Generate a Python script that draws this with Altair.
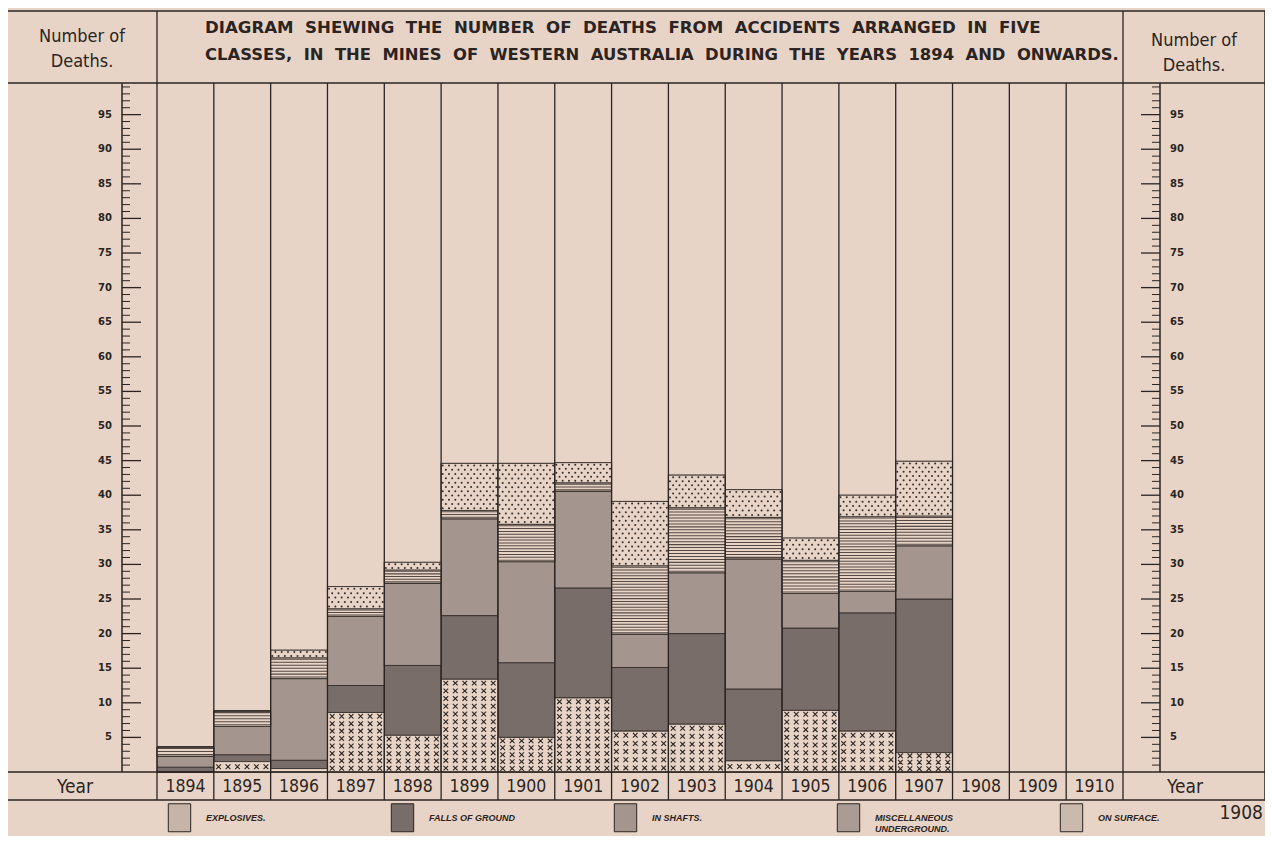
import altair as alt
import pandas as pd

# ---------------- data ----------------
YEARS = ["1894", "1895", "1896", "1897", "1898", "1899", "1900",
         "1901", "1902", "1903", "1904", "1905", "1906", "1907"]
EMPTY_YEARS = ["1908", "1909", "1910"]
ALL_YEARS = YEARS + EMPTY_YEARS

CLASSES = ["EXPLOSIVES.", "FALLS OF GROUND", "IN SHAFTS.",
           "MISCELLANEOUS UNDERGROUND.", "ON SURFACE."]

EXPLOSIVES = [0.0, 1.5, 0.5, 8.6, 5.3, 13.4, 5.0, 10.7, 5.9, 6.9, 1.6, 8.9, 5.9, 2.8]
FALLS      = [0.7, 1.0, 1.2, 3.9, 10.1, 9.2, 10.8, 15.9, 9.2, 13.1, 10.4, 11.9, 17.1, 22.2]
SHAFTS     = [1.6, 4.1, 11.8, 10.0, 11.9, 14.0, 14.6, 14.0, 4.8, 8.8, 18.8, 5.0, 3.1, 7.7]
MISC       = [1.3, 2.2, 3.0, 1.1, 1.9, 1.2, 5.4, 1.2, 9.9, 9.4, 6.0, 4.8, 10.8, 4.3]
SURFACE    = [0.0, 0.0, 1.1, 3.2, 1.1, 6.8, 8.8, 2.9, 9.3, 4.7, 4.0, 3.2, 3.1, 7.9]
SERIES = [EXPLOSIVES, FALLS, SHAFTS, MISC, SURFACE]

TICKS = list(range(1, 100))
TICK_LABELS = list(range(5, 100, 5))

TITLE_1 = "DIAGRAM SHEWING THE NUMBER OF DEATHS FROM ACCIDENTS ARRANGED IN FIVE"
TITLE_2 = "CLASSES, IN THE MINES OF WESTERN AUSTRALIA DURING THE YEARS 1894 AND ONWARDS."

# ---------------- style ----------------
PAPER = "#e8d4c7"
INK = "#2b2422"
TONES = ["#c7b4a9", "#786d68", "#a4968e", "#aa9c94", "#cbb9ae"]
NARROW = "Liberation Sans Narrow, DejaVu Sans Condensed, Liberation Sans, sans-serif"
BOLD = "DejaVu Sans, sans-serif"

W, H = 966, 689
YMAX = 99.57
ROW_BOTTOM = 717
TOP = -72
LEFT = -150
RIGHT = 1108
NSUB = 18

# stacked segments (bottom = explosives ... top = on surface)
rows = []
cum = [0.0] * len(YEARS)
for ci, (cls, vals) in enumerate(zip(CLASSES, SERIES)):
    for i, (yr, v) in enumerate(zip(YEARS, vals)):
        rows.append({"year": yr, "cls": cls, "deaths": v, "lo": cum[i], "hi": cum[i] + v})
        cum[i] += v
df = pd.DataFrame(rows)

# hatch textures derived from the segments
misc_lines, dots, crosses = [], [], []
for r in df.itertuples():
    h = r.hi - r.lo
    if h <= 0:
        continue
    if r.cls == CLASSES[3]:
        n = max(1, round(h / 0.42))
        for k in range(n):
            c = r.lo + (k + 0.5) * h / n
            misc_lines.append({"year": r.year, "a": c - 0.075, "b": c + 0.075})
    elif r.cls == CLASSES[4]:
        n = max(1, round(h / 0.62))
        for k in range(n):
            for s in range(k % 2, NSUB, 2):
                dots.append({"key": f"{r.year}-{s}", "v": r.lo + (k + 0.5) * h / n})
    elif r.cls == CLASSES[0]:
        n = round(h / 1.1)
        for k in range(n):
            for s in range(1, NSUB, 3):
                crosses.append({"key": f"{r.year}-{s}", "v": r.lo + (k + 0.5) * h / n})

SUB_KEYS = [f"{y}-{s}" for y in ALL_YEARS for s in range(NSUB)]

xscale = alt.Scale(domain=ALL_YEARS, paddingInner=0, paddingOuter=0)
subscale = alt.Scale(domain=SUB_KEYS, paddingInner=0, paddingOuter=0)
yscale = alt.Scale(domain=[0, YMAX], nice=False, zero=False)

ONE = alt.Data(values=[{}])


def hline(x1, x2, y, w=1.4):
    return alt.Chart(ONE).mark_rule(color=INK, strokeWidth=w).encode(
        x=alt.value(x1), x2=alt.value(x2), y=alt.value(y))


def vline(x, y1, y2, w=1.4):
    return alt.Chart(ONE).mark_rule(color=INK, strokeWidth=w).encode(
        x=alt.value(x), y=alt.value(y1), y2=alt.value(y2))


def label(text, x, y, size, font=NARROW, weight="normal", align="center"):
    return alt.Chart(ONE).mark_text(
        text=text, font=font, fontSize=size, fontWeight=weight,
        color=INK, align=align, baseline="middle").encode(x=alt.value(x), y=alt.value(y))


legend = alt.Legend(
    title=None, orient="none", legendX=8, legendY=720, direction="horizontal",
    columns=5, gridAlign="all", columnPadding=96, padding=0,
    symbolType="M-0.8,-1H0.8V1H-0.8Z", symbolSize=784,
    symbolStrokeColor=INK, symbolStrokeWidth=1,
    labelFont="Liberation Sans, sans-serif", labelFontStyle="italic",
    labelFontWeight="bold", labelFontSize=9, labelColor=INK,
    labelBaseline="middle", labelOffset=12, labelLimit=200,
    labelExpr="datum.label == 'MISCELLANEOUS UNDERGROUND.' ? ['MISCELLANEOUS', 'UNDERGROUND.'] : datum.label",
)

XBAND = alt.X("year:O", scale=xscale, axis=None)
XEDGE = alt.X("year:O", scale=xscale, bandPosition=0, axis=None)
XSUB = alt.X("key:O", scale=subscale, axis=None)

bars = alt.Chart(df).mark_bar(stroke=INK, strokeWidth=0.8).encode(
    x=XBAND,
    y=alt.Y("lo:Q", scale=yscale, axis=None),
    y2="hi:Q",
    color=alt.Color("cls:N", scale=alt.Scale(domain=CLASSES, range=TONES), legend=legend),
)

paper_base = alt.Chart(df).transform_filter(
    alt.FieldOneOfPredicate(field="cls", oneOf=[CLASSES[0], CLASSES[3], CLASSES[4]])
).mark_bar(fill=PAPER, stroke=INK, strokeWidth=0.8).encode(
    x=XBAND, y=alt.Y("lo:Q", scale=yscale, axis=None), y2="hi:Q")

misc_hatch = alt.Chart(pd.DataFrame(misc_lines)).mark_bar(
    color="#3a302d", opacity=0.85).encode(
    x=XBAND, y=alt.Y("a:Q", scale=yscale, axis=None), y2="b:Q")

dot_hatch = alt.Chart(pd.DataFrame(dots)).mark_circle(
    color=INK, size=4, opacity=0.95).encode(
    x=XSUB, y=alt.Y("v:Q", scale=yscale, axis=None))

cross_hatch = alt.Chart(pd.DataFrame(crosses)).mark_point(
    shape="M-1,-1L1,1M1,-1L-1,1", size=22, filled=False, stroke=INK,
    strokeWidth=1.1, opacity=1).encode(
    x=XSUB, y=alt.Y("v:Q", scale=yscale, axis=None))

columns = alt.Chart(pd.DataFrame({"year": ALL_YEARS})).mark_rule(
    color=INK, strokeWidth=1.3).encode(
    x=XEDGE, y=alt.value(0), y2=alt.value(ROW_BOTTOM))

year_labels = alt.Chart(pd.DataFrame({"year": ALL_YEARS})).mark_text(
    font=NARROW, fontSize=17.5, color=INK, baseline="middle").encode(
    x=XBAND, y=alt.value(704), text="year:N")

tick_df = pd.DataFrame({"v": TICKS})
lab_df = pd.DataFrame({"v": TICK_LABELS})


def ruler(spine_x, minor_end, major_end):
    minor = alt.Chart(tick_df).transform_filter("datum.v % 5 != 0").mark_rule(
        color=INK, strokeWidth=1).encode(
        y=alt.Y("v:Q", scale=yscale, axis=None),
        x=alt.value(spine_x), x2=alt.value(minor_end))
    major = alt.Chart(tick_df).transform_filter("datum.v % 5 == 0").mark_rule(
        color=INK, strokeWidth=1.3).encode(
        y=alt.Y("v:Q", scale=yscale, axis=None),
        x=alt.value(spine_x), x2=alt.value(major_end))
    spine = vline(spine_x, 0, H, 1.5)
    return [minor, major, spine]


def ruler_labels(x, align):
    return alt.Chart(lab_df).mark_text(
        font=BOLD, fontSize=10, fontWeight="bold", color=INK,
        align=align, baseline="middle").encode(
        y=alt.Y("v:Q", scale=yscale, axis=None), x=alt.value(x), text="v:Q")


nb = "\u00a0\u00a0"
layers = [
    bars,
    paper_base,
    misc_hatch,
    dot_hatch,
    cross_hatch,
    columns,
    year_labels,
    vline(W, TOP, ROW_BOTTOM, 1.3),
    vline(0, TOP, 0, 1.3),
    *ruler(-35, -27, -16),
    *ruler(1003, 995, 984),
    ruler_labels(-45, "right"),
    ruler_labels(1013, "left"),
    # frame
    hline(LEFT, RIGHT, TOP, 1.5),
    hline(LEFT, RIGHT, 0, 1.5),
    hline(LEFT, RIGHT, H, 1.5),
    hline(LEFT, RIGHT, ROW_BOTTOM, 1.5),
    vline(LEFT, TOP, ROW_BOTTOM, 1.5),
    vline(RIGHT, TOP, ROW_BOTTOM, 1.5),
    # texts
    label("Number of", -75, -46, 18),
    label("Deaths.", -75, -21, 18),
    label("Number of", 1037, -42, 18),
    label("Deaths.", 1037, -17, 18),
    label("Year", -82, 704, 19),
    label("Year", 1028, 704, 19),
    label(nb.join(TITLE_1.split(" ")), 48, -55, 16.6, font=BOLD, weight="bold", align="left"),
    label(nb.join(TITLE_2.split(" ")), 48, -28, 16.4, font=BOLD, weight="bold", align="left"),
    label("1908", 1106, 730, 19, align="right"),
]

chart = alt.layer(*layers).resolve_scale(x="independent").properties(
    width=W, height=H,
    autosize=alt.AutoSizeParams(type="none"),
    padding={"left": 149, "top": 75, "right": 142, "bottom": 64},
).configure(background=PAPER).configure_view(stroke=None)

chart.save("out.html", embed_options={"renderer": "svg", "actions": False})
